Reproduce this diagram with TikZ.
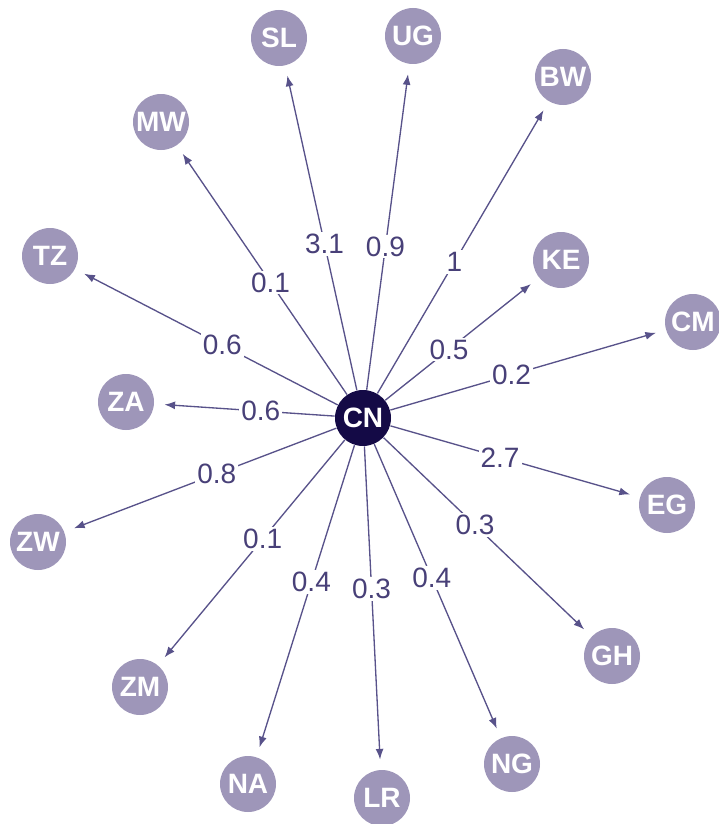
\documentclass[tikz,border=0pt]{standalone}
\usepackage{fontspec}
\setmainfont{Liberation Sans}
\usetikzlibrary{arrows.meta}

\definecolor{nodefill}{RGB}{158,150,185}
\definecolor{hubfill}{RGB}{20,10,70}
\definecolor{edgecol}{RGB}{88,82,138}
\definecolor{labcol}{RGB}{72,64,120}

\tikzset{every picture/.style={line width=0.75pt}}
\tikzset{
  country/.style={circle, fill=nodefill, text=white, minimum size=42pt, inner sep=0pt,
    font=\fontsize{21}{24}\selectfont\bfseries},
  hub/.style={country, fill=hubfill},
  flow/.style={draw=edgecol, line width=1pt, -{Latex[length=8pt,width=6pt]}, shorten >=7.5pt},
  val/.style={fill=white, text=labcol, inner sep=1.5pt, pos=0.44,
    font=\fontsize{21}{24}\selectfont},
}

\begin{document}
\begin{tikzpicture}[x=0.75pt,y=0.75pt,yscale=-1,xscale=1]
%set diagram size
\useasboundingbox (0,0) rectangle (718,824);

%Hub
\node [hub] (cn) at (363,418) {CN};

%Partners
\node [country] (sl) at (279,38) {SL};
\node [country] (ug) at (413,36) {UG};
\node [country] (bw) at (563,77) {BW};
\node [country] (mw) at (161,122) {MW};
\node [country] (ke) at (561,260) {KE};
\node [country] (tz) at (50,256) {TZ};
\node [country] (cm) at (693,322) {CM};
\node [country] (za) at (126,402) {ZA};
\node [country] (eg) at (667,505) {EG};
\node [country] (zw) at (38,542) {ZW};
\node [country] (gh) at (612,656) {GH};
\node [country] (zm) at (140,687) {ZM};
\node [country] (na) at (248,784) {NA};
\node [country] (lr) at (382,798) {LR};
\node [country] (ng) at (512,764) {NG};

%Flows
\draw [flow] (cn) -- node [val, pos=0.45] {3.1} (sl);
\draw [flow] (cn) -- node [val] {0.9} (ug);
\draw [flow] (cn) -- node [val, pos=0.45] {1} (bw);
\draw [flow] (cn) -- node [val, pos=0.45] {0.1} (mw);
\draw [flow] (cn) -- node [val, pos=0.415] {0.5} (ke);
\draw [flow] (cn) -- node [val] {0.6} (tz);
\draw [flow] (cn) -- node [val] {0.2} (cm);
\draw [flow] (cn) -- node [val, pos=0.41] {0.6} (za);
\draw [flow] (cn) -- node [val] {2.7} (eg);
\draw [flow] (cn) -- node [val] {0.8} (zw);
\draw [flow] (cn) -- node [val] {0.3} (gh);
\draw [flow] (cn) -- node [val] {0.1} (zm);
\draw [flow] (cn) -- node [val] {0.4} (na);
\draw [flow] (cn) -- node [val] {0.3} (lr);
\draw [flow] (cn) -- node [val, pos=0.455] {0.4} (ng);
\end{tikzpicture}
\end{document}
